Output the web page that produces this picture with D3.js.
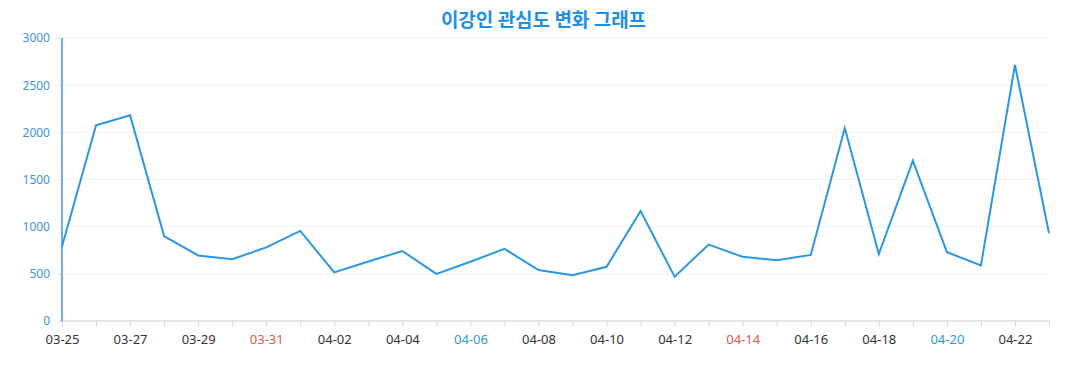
<!DOCTYPE html>
<html>
<head>
<meta charset="utf-8">
<script src="https://cdn.jsdelivr.net/npm/d3@7"></script>
<style>
  body { margin: 0; background: #fff; }
  svg { display: block; font-family: "Noto Sans", "Open Sans", sans-serif; }
</style>
</head>
<body>
<svg id="chart"></svg>
<script>
const dates = ["03-25", "03-26", "03-27", "03-28", "03-29", "03-30", "03-31",
    "04-01", "04-02", "04-03", "04-04", "04-05", "04-06", "04-07", "04-08",
    "04-09", "04-10", "04-11", "04-12", "04-13", "04-14", "04-15", "04-16",
    "04-17", "04-18", "04-19", "04-20", "04-21", "04-22", "04-23"];
const interest = [790, 2075, 2180, 900, 695, 655, 780, 955, 515, 630, 742, 500,
    628, 765, 540, 485, 575, 1165, 470, 810, 680, 645, 700, 2045, 710, 1700,
    730, 590, 2715, 930];
const yTicks = [0, 500, 1000, 1500, 2000, 2500, 3000];
// 일요일은 빨강, 토요일은 파랑
const redDays = ["03-31", "04-14"];
const blueDays = ["04-06", "04-20"];

const width = 1077;
const height = 390;
const margin = ({ top: 38, right: 28, bottom: 69, left: 62 });

const svg = d3.select("#chart")
    .attr("width", width)
    .attr("height", height);

const xScale = d3.scalePoint()
    .domain(dates)
    .range([margin.left, width - margin.right]);

const yScale = d3.scaleLinear()
    .domain([0, 3000])
    .range([height - margin.bottom, margin.top]);

// grid
svg.append("g")
    .selectAll("line")
    .data(yTicks.slice(1))
    .join("line")
    .attr("x1", margin.left)
    .attr("x2", width - margin.right)
    .attr("y1", d => yScale(d))
    .attr("y2", d => yScale(d))
    .attr("stroke", "#f0f0f0");

// x axis
const xAxis = svg.append("g")
    .attr("transform", `translate(0,${height - margin.bottom})`)
    .call(d3.axisBottom(xScale).tickSize(6).tickPadding(8)
        .tickFormat((d, i) => i % 2 === 0 ? d : ""));
xAxis.select(".domain").attr("stroke", "#dcdcdc").attr("stroke-width", 1.5)
    .attr("d", `M${margin.left},0H${width - margin.right}`);
xAxis.selectAll(".tick line").attr("stroke", "#dcdcdc");
xAxis.selectAll(".tick text")
    .attr("font-size", 13)
    .attr("font-family", "Noto Sans, sans-serif")
    .attr("fill", d => redDays.includes(d) ? "#e4583f" : blueDays.includes(d) ? "#2b9be0" : "#333");

// y axis
const yAxis = svg.append("g")
    .attr("transform", `translate(${margin.left},0)`)
    .call(d3.axisLeft(yScale).tickValues(yTicks).tickFormat(d3.format("d"))
        .tickSize(3).tickPadding(9));
yAxis.select(".domain").attr("stroke", "#3d94dc").attr("stroke-width", 1.5)
    .attr("d", `M0,${yScale(3000)}V${yScale(0)}`);
yAxis.selectAll(".tick line").attr("stroke", "#ccc");
yAxis.selectAll(".tick text")
    .attr("font-size", 12)
    .attr("font-family", "Noto Sans, sans-serif")
    .attr("fill", "#3d94dc");

// line
const line = d3.line()
    .x((d, i) => xScale(dates[i]))
    .y(d => yScale(d));

svg.append("path")
    .datum(interest)
    .attr("fill", "none")
    .attr("stroke", "#2a97e2")
    .attr("stroke-width", 2)
    .attr("stroke-linejoin", "miter")
    .attr("d", line);

// title
svg.append("text")
    .attr("x", width / 2 + 5)
    .attr("y", 27)
    .attr("text-anchor", "middle")
    .attr("font-family", "Noto Sans CJK KR, sans-serif")
    .attr("font-weight", "bold")
    .attr("font-size", 19)
    .attr("fill", "#1d8fe6")
    .text("이강인 관심도 변화 그래프");
</script>
</body>
</html>
